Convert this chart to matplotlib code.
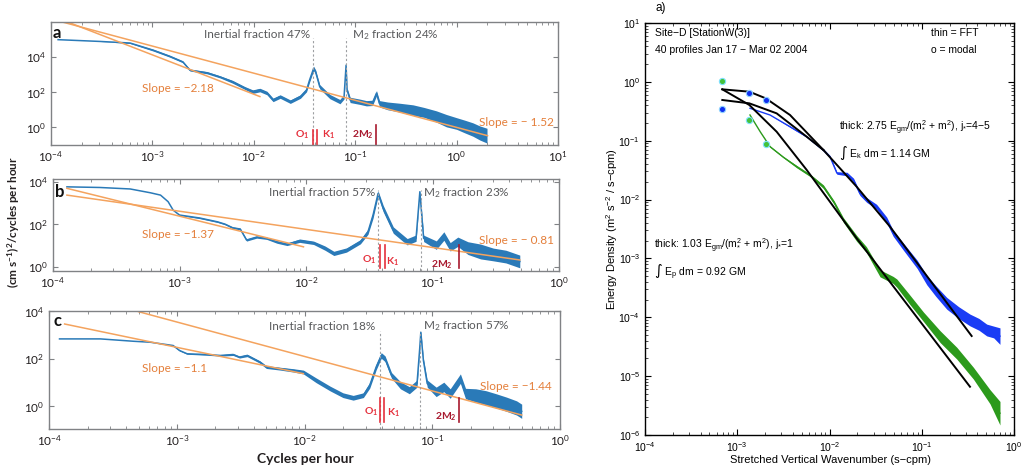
import matplotlib
matplotlib.use("Agg")
import matplotlib.pyplot as plt
from matplotlib.ticker import LogLocator, NullLocator, NullFormatter, LogFormatterMathtext
import numpy as np

plt.rcParams['font.family'] = ['Lato', 'DejaVu Sans']

W, H = 1024, 471

# ---------------- left: current-meter spectra (log10 cph, log10 power, noise half-width in decades)
a_logf = [-3.93, -3.52, -3.22, -2.99, -2.83, -2.70, -2.63, -2.46, -2.33, -2.21, -2.09, -2.01, -1.94, -1.87,
          -1.81, -1.74, -1.64, -1.54, -1.48, -1.45, -1.41, -1.39, -1.35, -1.25, -1.15, -1.11, -1.09, -1.08,
          -1.05, -0.95, -0.89, -0.83, -0.79, -0.76,
          -0.68, -0.56, -0.43, -0.32, -0.20, -0.10, 0.00, 0.08, 0.16, 0.23, 0.30]
a_logp = [4.98, 4.88, 4.79, 4.38, 4.04, 3.72, 3.25, 3.10, 2.86, 2.59, 2.24, 2.03, 2.12, 1.95,
          1.56, 1.75, 1.46, 1.75, 2.12, 2.69, 3.35, 3.14, 2.31, 1.75, 1.46, 1.73, 3.53, 2.12,
          1.56, 1.45, 1.37, 1.39, 1.94, 1.34,
          1.22, 1.12, 0.98, 0.85, 0.62, 0.38, 0.22, 0.05, -0.12, -0.32, -0.47]
a_noise = [0, 0, 0.03, 0.05, 0.05, 0.05, 0.05, 0.06, 0.06, 0.08, 0.08, 0.1, 0.1, 0.1,
           0.1, 0.1, 0.1, 0.1, 0.1, 0.12, 0.12, 0.12, 0.12, 0.12, 0.12, 0.12, 0.05, 0.12,
           0.15, 0.15, 0.15, 0.15, 0.15, 0.18,
           0.22, 0.25, 0.3, 0.28, 0.32, 0.35, 0.33, 0.36, 0.38, 0.4, 0.42]

b_logf = [-3.89, -3.63, -3.39, -3.23, -3.15, -3.09, -3.05, -3.00, -2.84, -2.70, -2.64, -2.58, -2.52, -2.47,
          -2.39, -2.31, -2.23, -2.15, -2.05, -1.94, -1.85, -1.78, -1.68, -1.57, -1.51, -1.47, -1.43, -1.39,
          -1.31, -1.20, -1.13, -1.10, -1.07, -0.97, -0.91, -0.86, -0.80,
          -0.72, -0.62, -0.52, -0.42, -0.31]
b_logp = [3.77, 3.74, 3.67, 3.49, 3.38, 3.07, 2.67, 2.44, 2.30, 2.12, 2.01, 1.84, 1.78, 1.26,
          1.40, 1.34, 1.17, 1.06, 1.23, 1.13, 0.88, 0.63, 0.79, 1.18, 1.65, 2.44, 3.46, 2.75,
          1.73, 1.18, 1.35, 3.54, 1.34, 1.02, 1.45, 0.94, 1.18,
          0.88, 0.72, 0.58, 0.48, 0.25]
b_noise = [0, 0, 0, 0, 0, 0, 0, 0.02, 0.03, 0.03, 0.03, 0.04, 0.04, 0.05,
           0.05, 0.05, 0.06, 0.06, 0.08, 0.08, 0.1, 0.1, 0.1, 0.1, 0.12, 0.15, 0.12, 0.15,
           0.15, 0.15, 0.15, 0.05, 0.15, 0.2, 0.2, 0.2, 0.22,
           0.3, 0.35, 0.3, 0.3, 0.3]

c_logf = [-3.92, -3.60, -3.34, -3.21, -3.03, -2.98, -2.92, -2.77, -2.66, -2.56, -2.51, -2.45, -2.35, -2.30,
          -2.19, -2.09, -2.01, -1.91, -1.80, -1.70, -1.62, -1.54, -1.49, -1.44, -1.40, -1.37, -1.32, -1.25,
          -1.18, -1.12, -1.10, -1.09, -1.07, -1.04, -0.97, -0.91, -0.86, -0.78, -0.74,
          -0.66, -0.58, -0.50, -0.42, -0.34, -0.30]
c_logp = [2.84, 2.84, 2.74, 2.70, 2.56, 2.35, 2.21, 2.18, 2.14, 2.18, 2.07, 2.14, 1.86, 1.65,
          1.58, 1.51, 1.44, 1.09, 0.74, 0.46, 0.35, 0.46, 0.88, 1.65, 2.14, 2.00, 1.30, 0.88,
          0.67, 0.95, 2.35, 3.12, 1.93, 0.95, 0.60, 0.81, 0.53, 1.16, 0.53,
          0.45, 0.35, 0.22, 0.08, -0.08, -0.22]
c_noise = [0, 0, 0, 0, 0.02, 0.02, 0.02, 0.03, 0.03, 0.04, 0.04, 0.05, 0.05, 0.06,
           0.06, 0.07, 0.08, 0.1, 0.1, 0.1, 0.1, 0.1, 0.12, 0.12, 0.12, 0.12, 0.12, 0.15,
           0.15, 0.15, 0.1, 0.05, 0.1, 0.15, 0.2, 0.2, 0.2, 0.2, 0.22,
           0.28, 0.3, 0.3, 0.3, 0.3, 0.3]

# power-law fits: (log10 f, log10 P) end points
a_fit_steep = [(-3.83, 5.97), (-1.94, 1.75)]
a_fit_flat = [(-3.88, 5.97), (0.305, -0.47)]
b_fit_steep = [(-3.89, 3.70), (-2.02, 0.94)]
b_fit_flat = [(-3.89, 3.38), (-0.31, 0.32)]
c_fit_short = [(-3.88, 3.47), (-2.01, 1.37)]
c_fit_long = [(-3.30, 3.99), (-0.30, -0.38)]

slopes = {'a': ('\u22122.18', '\u2212 1.52'), 'b': ('\u22121.37', '\u2212 0.81'), 'c': ('\u22121.1', '\u22121.44')}
inertial_pct = {'a': 47, 'b': 57, 'c': 18}
m2_pct = {'a': 24, 'b': 23, 'c': 57}
f_inertial = {'a': 0.0384, 'b': 0.0372, 'c': 0.0390}
f_M2, f_O1, f_K1, f_2M2 = 0.0805, 0.0387, 0.0418, 0.161

# ---------------- right: vertical wavenumber spectra (log10 s-cpm, log10 energy)
ek_logk = [-2.862, -2.645, -2.428, -2.247, -2.066, -1.995, -1.92, -1.81, -1.74, -1.67, -1.597, -1.49,
           -1.38, -1.31, -1.199, -1.05, -0.946, -0.85, -0.729, -0.60, -0.477, -0.38, -0.296, -0.22, -0.152]
ek_loge = [-0.449, -0.563, -0.762, -0.932, -1.158, -1.271, -1.55, -1.566, -1.667, -1.90, -2.007, -2.12,
           -2.347, -2.573, -2.80, -3.10, -3.366, -3.55, -3.762, -3.92, -4.046, -4.12, -4.216, -4.25, -4.32]
ek_noise = [0, 0, 0.01, 0.01, 0.02, 0.02, 0.02, 0.03, 0.03, 0.03, 0.04, 0.04,
            0.05, 0.05, 0.06, 0.07, 0.08, 0.09, 0.1, 0.1, 0.1, 0.1, 0.1, 0.1, 0.14]
ep_logk = [-2.862, -2.75, -2.645, -2.50, -2.355, -2.2, -2.066, -1.95, -1.85, -1.706, -1.60, -1.452,
           -1.31, -1.27, -1.13, -0.982, -0.80, -0.62, -0.44, -0.26, -0.152]
ep_loge = [-0.563, -0.85, -1.10, -1.28, -1.441, -1.60, -1.781, -2.05, -2.347, -2.658, -2.85, -3.253,
           -3.366, -3.42, -3.70, -3.99, -4.33, -4.61, -4.95, -5.35, -5.63]
ep_noise = [0, 0, 0.01, 0.01, 0.02, 0.02, 0.03, 0.03, 0.04, 0.05, 0.05, 0.06,
            0.06, 0.07, 0.08, 0.08, 0.1, 0.1, 0.1, 0.12, 0.2]
modal_logk = [-3.162, -2.869, -2.691]
modal_ek = [-0.461, -0.194, -0.308]
modal_ep = [0.015, -0.648, -1.056]
gm_ek_1 = [(-3.162, -0.127), (-2.869, -0.167), (-2.691, -0.280), (-2.428, -0.563), (-2.066, -1.158),
           (-1.706, -1.781), (-1.344, -2.461), (-0.459, -4.318)]
gm_ek_2 = [(-3.162, -0.308), (-2.869, -0.365), (-2.573, -0.535), (-2.247, -0.932), (-2.066, -1.158)]
gm_ep = [(-3.162, -0.127), (-2.869, -0.393), (-2.573, -0.847), (-2.247, -1.497), (-1.706, -2.658),
         (-0.477, -5.18)]

BLUE = '#2a7ab8'
ORANGE = '#f4a35e'
ORANGE_TXT = '#e47f3a'
GRAY_TXT = '#58595b'
SPINE = '#808285'
RED = '#e5303c'
DKRED = '#a8192e'


def px(x, y):
    return x / W, 1 - y / H


def rect(l, t, r, b):
    return [l / W, 1 - b / H, (r - l) / W, (b - t) / H]


def band(ax, lf, lp, nz, color, lw):
    f = 10 ** np.array(lf)
    p = np.array(lp)
    n = np.array(nz)
    ax.fill_between(f, 10 ** (p - n), 10 ** (p + n), color=color, lw=0)
    ax.plot(f, 10 ** p, color=color, lw=lw)


def fitline(ax, pts, **kw):
    ax.plot([10 ** q[0] for q in pts], [10 ** q[1] for q in pts], **kw)


fig = plt.figure(figsize=(W / 100, H / 100), dpi=100)

left_axes = {
    'a': (rect(51, 21.7, 558, 145), (1e-4, 10), (1e-1, 1e6)),
    'b': (rect(53, 179, 559, 271), (1e-4, 1), (10 ** -0.2, 10 ** 4.14)),
    'c': (rect(49.3, 311, 560, 429), (1e-4, 1), (10 ** -0.97, 10 ** 4.02)),
}
spectra = {'a': (a_logf, a_logp, a_noise), 'b': (b_logf, b_logp, b_noise), 'c': (c_logf, c_logp, c_noise)}
fits = {'a': (a_fit_steep, a_fit_flat), 'b': (b_fit_steep, b_fit_flat), 'c': (c_fit_short, c_fit_long)}

# layout of annotations per panel, in figure pixels
lay = {
    'a': dict(lab=(57, 33), txty=35, inr=310, m2l=352, s1=(142, 88), s2=(479, 122),
              o1=(309, 135), k1=(322, 135), m4=(374, 135), red=(0.0, 0.12), red4=(0.0, 0.16), dash=0.87),
    'b': dict(lab=(60, 192), txty=193, inr=375, m2l=423, s1=(142, 235), s2=(479, 241),
              o1=(376, 260), k1=(386, 262), m4=(453, 265), red=(0.03, 0.28), red4=(0.03, 0.28), dash=0.88),
    'c': dict(lab=(57, 321), txty=326, inr=375, m2l=423, s1=(142, 369), s2=(480, 387),
              o1=(378, 412), k1=(387, 413), m4=(457, 417), red=(0.06, 0.26), red4=(0.06, 0.26), dash=0.83),
}

for key in ['a', 'b', 'c']:
    pos, xl, yl = left_axes[key]
    ax = fig.add_axes(pos)
    ax.set_xscale('log')
    ax.set_yscale('log')
    lf, lp, nz = spectra[key]
    band(ax, lf, lp, nz, BLUE, 1.1)
    for pts in fits[key]:
        fitline(ax, pts, color=ORANGE, lw=1.1)
    L = lay[key]
    ax.axvline(f_inertial[key], 0, L['dash'], color='#9d9fa2', ls=(0, (2, 2)), lw=0.8)
    ax.axvline(f_M2, 0, L['dash'], color='#9d9fa2', ls=(0, (2, 2)), lw=0.8)
    ax.axvline(f_O1, *L['red'], color=RED, lw=1.2)
    ax.axvline(f_K1, *L['red'], color=RED, lw=1.2)
    ax.axvline(f_2M2, *L['red4'], color=DKRED, lw=1.2)
    ax.set_xlim(*xl)
    ax.set_ylim(*yl)
    ax.set_yticks([1, 1e2, 1e4])
    ax.yaxis.set_major_formatter(LogFormatterMathtext())
    ax.yaxis.set_minor_locator(NullLocator())
    ax.xaxis.set_major_locator(LogLocator(base=10, numticks=20))
    ax.xaxis.set_minor_locator(LogLocator(base=10, subs=np.arange(2, 10), numticks=20))
    ax.xaxis.set_minor_formatter(NullFormatter())
    ax.tick_params(which='both', direction='in', top=True, right=True, color=SPINE,
                   labelcolor='#231f20', labelsize=8.5)
    ax.tick_params(which='major', length=3.5, width=0.8)
    ax.tick_params(which='minor', length=2, width=0.6)
    for s in ax.spines.values():
        s.set_color(SPINE)
        s.set_linewidth(1.0)

    fig.text(*px(*L['lab']), key, fontsize=12, fontweight='bold', color='#111111', ha='center', va='center')
    fig.text(*px(L['inr'], L['txty']), 'Inertial fraction %d%%' % inertial_pct[key], fontsize=8.5,
             color=GRAY_TXT, ha='right', va='center')
    fig.text(*px(L['m2l'], L['txty']), 'M$\\mathregular{_2}$ fraction %d%%' % m2_pct[key], fontsize=8.5,
             color=GRAY_TXT, ha='left', va='center')
    fig.text(*px(*L['s1']), 'Slope = ' + slopes[key][0], fontsize=8.5, color=ORANGE_TXT, ha='left', va='center')
    fig.text(*px(*L['s2']), 'Slope = ' + slopes[key][1], fontsize=8.5, color=ORANGE_TXT, ha='left', va='center')
    fig.text(*px(*L['o1']), 'O$\\mathregular{_1}$', fontsize=7.5, fontweight='bold', color=RED,
             ha='right', va='center')
    fig.text(*px(*L['k1']), 'K$\\mathregular{_1}$', fontsize=7.5, fontweight='bold', color=RED,
             ha='left', va='center')
    fig.text(*px(*L['m4']), '2M$\\mathregular{_2}$', fontsize=7.5, fontweight='bold', color=DKRED,
             ha='right', va='center')

fig.text(*px(14, 222), '(cm s$\\mathregular{^{-1}}$)$\\mathregular{^2}$/cycles per hour', rotation=90,
         fontsize=8.5, fontweight='bold', color='#231f20', ha='center', va='center')
fig.text(*px(305, 459), 'Cycles per hour', fontsize=10, fontweight='bold', color='#231f20',
         ha='center', va='center')

# ---------------- right panel
RF = ['Liberation Sans', 'DejaVu Sans']
axr = fig.add_axes(rect(645, 23, 1014, 435))
axr.set_xscale('log')
axr.set_yscale('log')
band(axr, ek_logk, ek_loge, ek_noise, '#1a3cf5', 1.0)
band(axr, ep_logk, ep_loge, ep_noise, '#2c9a1c', 1.0)
for pts in (gm_ek_1, gm_ek_2, gm_ep):
    fitline(axr, pts, color='black', lw=1.4)
mk = 10 ** np.array(modal_logk)
axr.plot(mk, 10 ** np.array(modal_ek), 'o', ms=4.5, mfc='#1030f0', mec='#8fd3ff', mew=0.8, ls='none')
axr.plot(mk, 10 ** np.array(modal_ep), 'o', ms=4.5, mfc='#44c23a', mec='#7fe0ff', mew=0.8, ls='none')
axr.set_xlim(1e-4, 1)
axr.set_ylim(1e-6, 10)
axr.xaxis.set_major_locator(LogLocator(base=10, numticks=20))
axr.xaxis.set_minor_locator(LogLocator(base=10, subs=np.arange(2, 10), numticks=20))
axr.yaxis.set_major_locator(LogLocator(base=10, numticks=20))
axr.yaxis.set_minor_locator(LogLocator(base=10, subs=np.arange(2, 10), numticks=20))
axr.xaxis.set_minor_formatter(NullFormatter())
axr.yaxis.set_minor_formatter(NullFormatter())
axr.tick_params(which='both', direction='in', top=True, right=True, labelsize=7.5,
                labelfontfamily='Liberation Sans', color='black')
axr.tick_params(which='major', length=4, width=0.8)
axr.tick_params(which='minor', length=2, width=0.5)
for s in axr.spines.values():
    s.set_linewidth(1.0)

tk = dict(fontsize=7.5, family=RF, color='black', va='center')
fig.text(*px(656, 8), 'a)', fontsize=8.5, family=RF, va='center')
fig.text(*px(655, 33), 'Site\u2212D [StationW(3)]', **tk)
fig.text(*px(655, 50), '40 profiles Jan 17 \u2212 Mar 02 2004', **tk)
fig.text(*px(931, 33), 'thin = FFT', **tk)
fig.text(*px(931, 50), 'o = modal', **tk)
fig.text(*px(839, 128), 'thick: 2.75 E$\\mathregular{_{gm}}$/(m$\\mathregular{_{*}^{2}}$ + m$\\mathregular{^{2}}$), '
         'j$\\mathregular{_{*}}$=4\u22125', **tk)
fig.text(*px(839, 153), '\u222b E$\\mathregular{_{k}}$ dm = 1.14 GM', **tk)
fig.text(*px(654, 246), 'thick: 1.03 E$\\mathregular{_{gm}}$/(m$\\mathregular{_{*}^{2}}$ + m$\\mathregular{^{2}}$), '
         'j$\\mathregular{_{*}}$=1', **tk)
fig.text(*px(654, 272), '\u222b E$\\mathregular{_{p}}$ dm = 0.92 GM', **tk)
fig.text(*px(612, 229), 'Energy Density (m$\\mathregular{^{2}}$ s$\\mathregular{^{-2}}$ / s\u2212cpm)', rotation=90,
         fontsize=8, family=RF, ha='center', va='center')
fig.text(*px(830, 460), 'Stretched Vertical Wavenumber (s\u2212cpm)', fontsize=8, family=RF,
         ha='center', va='center')

fig.savefig('out.png', dpi=100)
